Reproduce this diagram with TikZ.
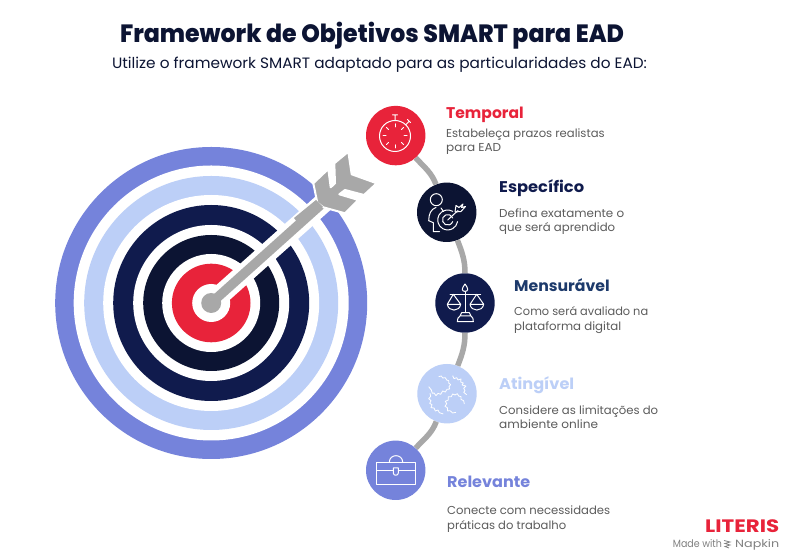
\documentclass[tikz,border=0pt]{standalone}
\usepackage{fontspec}
\setmainfont{Poppins}
\newfontfamily\titlefont{Poppins ExtraBold}
\usepackage{graphicx}
\definecolor{cred}{HTML}{E8233A}
\definecolor{cnavy}{HTML}{101B4D}
\definecolor{cdark}{HTML}{0C1433}
\definecolor{cblue}{HTML}{7583DB}
\definecolor{clight}{HTML}{BCCFF7}
\definecolor{cgray}{HTML}{A8A8A8}
\definecolor{ctxt}{HTML}{5C5C5C}
\definecolor{cmens}{HTML}{1D3A6B}
\newcommand{\tw}[2]{\resizebox{#1pt}{\height}{#2}}
\tikzset{
  bub/.style={circle,minimum size=59.4pt,inner sep=0pt,draw=none},
  head/.style={anchor=base west,inner sep=0pt,font=\fontsize{15.5}{16}\selectfont\bfseries},
  desc/.style={anchor=base west,inner sep=0pt,text=ctxt,font=\fontsize{11.5}{14}\selectfont},
  ico/.style={draw=white,line width=1pt,line join=round,line cap=round},
  link/.style={draw=cgray,line width=5.5pt}
}
\begin{document}
\begin{tikzpicture}[x=1pt,y=1pt]
\useasboundingbox (0,0) rectangle (787,556);
\fill[white] (0,0) rectangle (787,556);
\begin{scope}[y=-1pt,yshift=556pt]
% target
\foreach \r/\c in {156/cblue,137.5/white,127/clight,108/white,98/cnavy,78/white,68/cdark,49/white,39.3/cred}
  \fill[\c] (211.2,303) circle[radius=\r];
\draw[white,line width=20pt] (211.2,303) -- (330,197);
\fill[white] (211.2,303) circle[radius=19];
\fill[cgray] (211.2,303) circle[radius=10];
\draw[cgray,line width=9.5pt] (211.2,303) -- (325,201);
\filldraw[fill=cgray,draw=white,line width=2pt,line join=round] (313.3,183.3)--(328.3,169)--(330.7,187.3)--(335,183.3)--(334.3,163.3)--(348.3,151.7)--(351.7,174.3)--(376.7,183.3)--(364,195)--(345,190)--(339.3,194.3)--(358.3,200)--(345,213.3)--(323.3,207.3)--(317.3,202.7)--cycle;
\fill[cgray] (316,200)--(323,207)--(300,226)--(294,218)--cycle;
% title
\node[anchor=base,inner sep=0pt,text=cdark,font=\fontsize{25}{27}\selectfont\titlefont] (title) at (372,42.5) {\tw{504}{Framework de Objetivos SMART para EAD}};
\node[anchor=base,inner sep=0pt,text=cdark,font=\fontsize{15}{17}\selectfont] (sub) at (379.5,68.5) {\tw{535}{Utilize o framework SMART adaptado para as particularidades do EAD:}};
% bubbles
\node[bub,fill=cred] (t) at (395.7,135.6) {};
\node[bub,fill=cdark] (e) at (446.7,212.3) {};
\node[bub,fill=cnavy] (m) at (465,303) {};
\node[bub,fill=clight] (a) at (447,393.7) {};
\node[bub,fill=cblue] (r) at (395.7,470.3) {};
% labels
\node[head,text=cred] (tl) at (446,118.5) {\tw{77.5}{Temporal}};
\node[desc] (td1) at (446,137.7) {\tw{158.5}{Estabeleça prazos realistas}};
\node[desc] (td2) at (446,152) {\tw{55}{para EAD}};
\node[head,text=cnavy] (el) at (499,192.7) {\tw{85}{Específico}};
\node[desc] (ed1) at (499,217.3) {\tw{125}{Defina exatamente o}};
\node[desc] (ed2) at (499,231.8) {\tw{116}{que será aprendido}};
\node[head,text=cmens] (ml) at (514,291.5) {\tw{95.5}{Mensurável}};
\node[desc] (md1) at (514,316) {\tw{134}{Como será avaliado na}};
\node[desc] (md2) at (514,330.5) {\tw{107}{plataforma digital}};
\node[head,text=clight] (al) at (499,389.5) {\tw{75}{Atingível}};
\node[desc] (ad1) at (499,414.7) {\tw{159}{Considere as limitações do}};
\node[desc] (ad2) at (499,428.7) {\tw{99}{ambiente online}};
\node[head,text=cblue] (rl) at (447,487.7) {\tw{83}{Relevante}};
\node[desc] (rd1) at (447,514.5) {\tw{163}{Conecte com necessidades}};
\node[desc] (rd2) at (447,529.5) {\tw{119}{práticas do trabalho}};
% logo
\node[anchor=base west,inner sep=0pt,text=cred,font=\fontsize{18}{18}\selectfont\bfseries] (logo) at (705,533) {\tw{74}{LITERIS}};
\node[anchor=base west,inner sep=0pt,text=gray,font=\fontsize{10.5}{12}\selectfont] (made) at (672.7,548) {\tw{49}{Made with}};
\node[anchor=base west,inner sep=0pt,text=gray,font=\fontsize{10.5}{12}\selectfont] (nap) at (735,548) {\tw{44}{Napkin}};
\draw[gray,line width=0.8pt] (724,540.5)--(730,542)--(725,543.5)--(730,545)--(725,546.5)--(729,548);
% stopwatch
\draw[ico] (395,136) circle[radius=15.5];
\draw[ico] (395,120.5)--(395,115.5) (392.5,115)--(397.5,115) (406,124.5)--(409,121.5) (407.5,119.5)--(410.5,122.5);
\foreach \dx/\dy in {0/-1,.707/-.707,1/0,.707/.707,0/1,-.707/.707,-1/0,-.707/-.707}
  \draw[ico] ({395+9*\dx},{136+9*\dy})--({395+12*\dx},{136+12*\dy});
% person target
\draw[ico] (436.3,199.7) circle[radius=6];
\draw[ico] (436,207.5)..controls (431,209) and (428.7,214)..(428.7,220.7)--(433.3,222.7)--(433.3,231.7)--(439.5,231.7);
\draw[ico] (441,208)--(443.5,211.5);
\draw[ico] (452.7,211.3) arc[start angle=60,end angle=350,radius=10pt];
\draw[ico] (447.7,220) ++(5,-2) arc[start angle=20,end angle=340,radius=5.3pt];
\draw[ico] (447.7,220)--(458,210.5);
\draw[ico] (455,212)--(456,205.5)--(459,207.5)--(463,204)--(461.5,207.5)--(465.5,206.5)--(461,211.5)--(455,212);
% scales
\draw[ico] (465,292)--(465,312.7) (450,294.3)--(480.7,294.3);
\draw[ico] (465,284)..controls (463,287) and (462.3,288) ..(462.3,289.5)..controls (462.3,292) and (467.7,292)..(467.7,289.5)..controls (467.7,288) and (467,287)..(465,284);
\draw[ico] (447.3,304.3)--(453.3,294.3)--(460.7,304.3)..controls (459.5,312) and (448.5,312)..(447.3,304.3)--(460.7,304.3);
\draw[ico] (470,304.3)--(476.7,294.3)--(483.7,304.3)..controls (482.5,312) and (471.2,312)..(470,304.3)--(483.7,304.3);
\draw[ico] (461.7,312.7)--(469.3,312.7)--(471,316)..controls (473,317) and (473.3,319)..(473.3,321.7)--(457.3,321.7)..controls (457.3,319) and (458,317)..(460,316)--cycle (460,316)--(471,316);
% squiggle
\begin{scope}[shift={(416pt,-364pt)},x=.3333pt,y=-.3333pt]
\draw[draw=white,line width=0.8pt,line join=round] (68,38)--(76,36)--(80,42)--(88,41)--(92,48)--(98,50)--(98,57)--(104,62)--(99,68)--(101,75)--(93,76)--(88,84)--(80,81)--(74,91)--(66,88)--(60,95)--(54,87)--(49,88)--(46,78)--(38,68);
\draw[draw=white,line width=0.8pt,line join=round] (110,35)--(114,44)--(122,41)--(126,48)--(135,45)--(134,54)--(142,57)--(138,63)--(150,66)--(143,73)--(147,80)--(143,85)--(152,92);
\draw[draw=white,line width=0.8pt,line join=round] (42,88)--(44,97)--(38,104)--(45,110)--(41,118)--(48,122)--(45,131)--(54,132)--(58,141)--(66,138)--(70,146)--(82,150);
\draw[draw=white,line width=0.8pt,line join=round] (120,145)--(110,147)--(102,140)--(95,141)--(94,131)--(87,127)--(92,119)--(88,112)--(97,108)--(97,98)--(106,98)--(110,90)--(117,93)--(124,89)--(128,96)--(135,98)--(135,106)--(143,110)--(145,120);
\end{scope}
% briefcase
\draw[ico] (376.7,462.3) rectangle (415,485);
\draw[ico] (376.7,470.7)--(393.3,470.7) (398.3,470.7)--(415,470.7);
\draw[ico] (389.3,462.3)..controls (389.3,453.5) and (402.7,453.5)..(402.7,462.3);
\draw[ico] (393.3,468)--(398.3,468)--(398.3,473)..controls (398.3,476) and (393.3,476)..(393.3,473)--cycle;
\end{scope}
% connectors
\draw[link] (t) to[out=-48,in=111] (e);
\draw[link] (e) to[out=-69,in=90] (m);
\draw[link] (m) to[out=-90,in=69] (a);
\draw[link] (a) to[out=-111,in=48] (r);
\end{tikzpicture}
\end{document}
